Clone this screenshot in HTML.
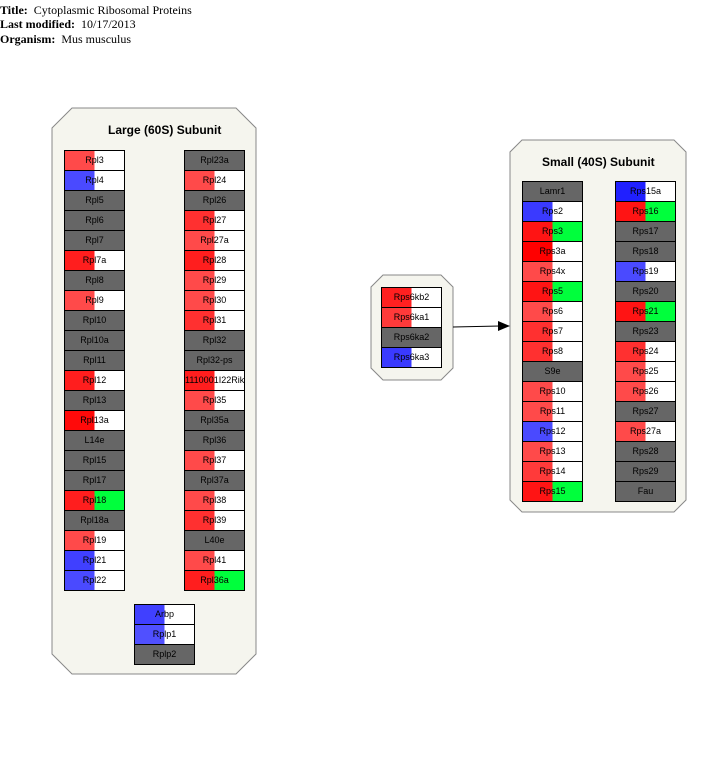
<!DOCTYPE html>
<html><head><meta charset="utf-8"><style>
body{margin:0;width:717px;height:781px;background:#fff;position:relative;overflow:hidden;font-family:"Liberation Sans",sans-serif}
.h{position:absolute;left:0;font-family:"Liberation Serif",serif;font-size:12px;line-height:14px}
.b{position:absolute;width:61px;height:21px;box-sizing:border-box;border:1px solid #000;font-size:9px;line-height:19px;text-align:center;color:#000}
.t{position:absolute;font-weight:bold;font-size:12px}
</style></head><body>
<div class="h" style="top:3px"><b>Title:</b>&nbsp; Cytoplasmic Ribosomal Proteins</div>
<div class="h" style="top:17px"><b>Last modified:</b>&nbsp; 10/17/2013</div>
<div class="h" style="top:32px"><b>Organism:</b>&nbsp; Mus musculus</div>
<svg width="717" height="781" style="position:absolute;left:0;top:0">
<polygon points="72,108 236,108 256,128 256,654 236,674 72,674 52,654 52,128" fill="#f5f5ee" stroke="#888" stroke-width="1"/>
<polygon points="522,140 674,140 686,152 686,500 674,512 522,512 510,500 510,152" fill="#f5f5ee" stroke="#888" stroke-width="1"/>
<polygon points="383,275 441,275 453,287 453,368 441,380 383,380 371,368 371,287" fill="#f5f5ee" stroke="#888" stroke-width="1"/>
<line x1="453" y1="327" x2="500" y2="326" stroke="#000"/>
<polygon points="510,326 498,321 498,331" fill="#000"/>
</svg>
<div class="t" style="left:108px;top:123px">Large (60S) Subunit</div>
<div class="t" style="left:542px;top:155px">Small (40S) Subunit</div>

<!-- Large left column -->
<div class="b" style="left:64px;top:150px;background:linear-gradient(90deg,#ff4a4a 50%,#fff 50%)">Rpl3</div>
<div class="b" style="left:64px;top:170px;background:linear-gradient(90deg,#4a4aff 50%,#fff 50%)">Rpl4</div>
<div class="b" style="left:64px;top:190px;background:#666">Rpl5</div>
<div class="b" style="left:64px;top:210px;background:#666">Rpl6</div>
<div class="b" style="left:64px;top:230px;background:#666">Rpl7</div>
<div class="b" style="left:64px;top:250px;background:linear-gradient(90deg,#ff1e1e 50%,#fff 50%)">Rpl7a</div>
<div class="b" style="left:64px;top:270px;background:#666">Rpl8</div>
<div class="b" style="left:64px;top:290px;background:linear-gradient(90deg,#ff4a4a 50%,#fff 50%)">Rpl9</div>
<div class="b" style="left:64px;top:310px;background:#666">Rpl10</div>
<div class="b" style="left:64px;top:330px;background:#666">Rpl10a</div>
<div class="b" style="left:64px;top:350px;background:#666">Rpl11</div>
<div class="b" style="left:64px;top:370px;background:linear-gradient(90deg,#ff1e1e 50%,#fff 50%)">Rpl12</div>
<div class="b" style="left:64px;top:390px;background:#666">Rpl13</div>
<div class="b" style="left:64px;top:410px;background:linear-gradient(90deg,#ff0a0a 50%,#fff 50%)">Rpl13a</div>
<div class="b" style="left:64px;top:430px;background:#666">L14e</div>
<div class="b" style="left:64px;top:450px;background:#666">Rpl15</div>
<div class="b" style="left:64px;top:470px;background:#666">Rpl17</div>
<div class="b" style="left:64px;top:490px;background:linear-gradient(90deg,#ff1e1e 50%,#00ff3c 50%)">Rpl18</div>
<div class="b" style="left:64px;top:510px;background:#666">Rpl18a</div>
<div class="b" style="left:64px;top:530px;background:linear-gradient(90deg,#ff4a4a 50%,#fff 50%)">Rpl19</div>
<div class="b" style="left:64px;top:550px;background:linear-gradient(90deg,#4040ff 50%,#fff 50%)">Rpl21</div>
<div class="b" style="left:64px;top:570px;background:linear-gradient(90deg,#4a4aff 50%,#fff 50%)">Rpl22</div>

<!-- Large right column -->
<div class="b" style="left:184px;top:150px;background:#666">Rpl23a</div>
<div class="b" style="left:184px;top:170px;background:linear-gradient(90deg,#ff4a4a 50%,#fff 50%)">Rpl24</div>
<div class="b" style="left:184px;top:190px;background:#666">Rpl26</div>
<div class="b" style="left:184px;top:210px;background:linear-gradient(90deg,#ff3030 50%,#fff 50%)">Rpl27</div>
<div class="b" style="left:184px;top:230px;background:linear-gradient(90deg,#ff4a4a 50%,#fff 50%)">Rpl27a</div>
<div class="b" style="left:184px;top:250px;background:linear-gradient(90deg,#ff1e1e 50%,#fff 50%)">Rpl28</div>
<div class="b" style="left:184px;top:270px;background:linear-gradient(90deg,#ff4a4a 50%,#fff 50%)">Rpl29</div>
<div class="b" style="left:184px;top:290px;background:linear-gradient(90deg,#ff4a4a 50%,#fff 50%)">Rpl30</div>
<div class="b" style="left:184px;top:310px;background:linear-gradient(90deg,#ff3030 50%,#fff 50%)">Rpl31</div>
<div class="b" style="left:184px;top:330px;background:#666">Rpl32</div>
<div class="b" style="left:184px;top:350px;background:#666">Rpl32-ps</div>
<div class="b" style="left:184px;top:370px;background:linear-gradient(90deg,#ff1e1e 50%,#fff 50%)">1110001I22Rik</div>
<div class="b" style="left:184px;top:390px;background:linear-gradient(90deg,#ff4a4a 50%,#fff 50%)">Rpl35</div>
<div class="b" style="left:184px;top:410px;background:#666">Rpl35a</div>
<div class="b" style="left:184px;top:430px;background:#666">Rpl36</div>
<div class="b" style="left:184px;top:450px;background:linear-gradient(90deg,#ff4a4a 50%,#fff 50%)">Rpl37</div>
<div class="b" style="left:184px;top:470px;background:#666">Rpl37a</div>
<div class="b" style="left:184px;top:490px;background:linear-gradient(90deg,#ff4a4a 50%,#fff 50%)">Rpl38</div>
<div class="b" style="left:184px;top:510px;background:linear-gradient(90deg,#ff3030 50%,#fff 50%)">Rpl39</div>
<div class="b" style="left:184px;top:530px;background:#666">L40e</div>
<div class="b" style="left:184px;top:550px;background:linear-gradient(90deg,#ff4a4a 50%,#fff 50%)">Rpl41</div>
<div class="b" style="left:184px;top:570px;background:linear-gradient(90deg,#ff1e1e 50%,#00ff3c 50%)">Rpl36a</div>

<!-- Large bottom -->
<div class="b" style="left:134px;top:604px;background:linear-gradient(90deg,#4040ff 50%,#fff 50%)">Arbp</div>
<div class="b" style="left:134px;top:624px;background:linear-gradient(90deg,#5050ff 50%,#fff 50%)">Rplp1</div>
<div class="b" style="left:134px;top:644px;background:#666">Rplp2</div>

<!-- Middle -->
<div class="b" style="left:381px;top:287px;background:linear-gradient(90deg,#ff2020 50%,#fff 50%)">Rps6kb2</div>
<div class="b" style="left:381px;top:307px;background:linear-gradient(90deg,#ff3a3a 50%,#fff 50%)">Rps6ka1</div>
<div class="b" style="left:381px;top:327px;background:#666">Rps6ka2</div>
<div class="b" style="left:381px;top:347px;background:linear-gradient(90deg,#3a3aff 50%,#fff 50%)">Rps6ka3</div>

<!-- Small left -->
<div class="b" style="left:522px;top:181px;background:#666">Lamr1</div>
<div class="b" style="left:522px;top:201px;background:linear-gradient(90deg,#3a3aff 50%,#fff 50%)">Rps2</div>
<div class="b" style="left:522px;top:221px;background:linear-gradient(90deg,#ff1414 50%,#00ff3c 50%)">Rps3</div>
<div class="b" style="left:522px;top:241px;background:linear-gradient(90deg,#ff0000 50%,#fff 50%)">Rps3a</div>
<div class="b" style="left:522px;top:261px;background:linear-gradient(90deg,#ff4a4a 50%,#fff 50%)">Rps4x</div>
<div class="b" style="left:522px;top:281px;background:linear-gradient(90deg,#ff1414 50%,#00ff3c 50%)">Rps5</div>
<div class="b" style="left:522px;top:301px;background:linear-gradient(90deg,#ff4a4a 50%,#fff 50%)">Rps6</div>
<div class="b" style="left:522px;top:321px;background:linear-gradient(90deg,#ff3030 50%,#fff 50%)">Rps7</div>
<div class="b" style="left:522px;top:341px;background:linear-gradient(90deg,#ff3030 50%,#fff 50%)">Rps8</div>
<div class="b" style="left:522px;top:361px;background:#666">S9e</div>
<div class="b" style="left:522px;top:381px;background:linear-gradient(90deg,#ff4a4a 50%,#fff 50%)">Rps10</div>
<div class="b" style="left:522px;top:401px;background:linear-gradient(90deg,#ff4a4a 50%,#fff 50%)">Rps11</div>
<div class="b" style="left:522px;top:421px;background:linear-gradient(90deg,#4a4aff 50%,#fff 50%)">Rps12</div>
<div class="b" style="left:522px;top:441px;background:linear-gradient(90deg,#ff4a4a 50%,#fff 50%)">Rps13</div>
<div class="b" style="left:522px;top:461px;background:linear-gradient(90deg,#ff3a3a 50%,#fff 50%)">Rps14</div>
<div class="b" style="left:522px;top:481px;background:linear-gradient(90deg,#ff1414 50%,#00ff3c 50%)">Rps15</div>

<!-- Small right -->
<div class="b" style="left:615px;top:181px;background:linear-gradient(90deg,#2020ff 50%,#fff 50%)">Rps15a</div>
<div class="b" style="left:615px;top:201px;background:linear-gradient(90deg,#ff1414 50%,#00ff3c 50%)">Rps16</div>
<div class="b" style="left:615px;top:221px;background:#666">Rps17</div>
<div class="b" style="left:615px;top:241px;background:#666">Rps18</div>
<div class="b" style="left:615px;top:261px;background:linear-gradient(90deg,#4a4aff 50%,#fff 50%)">Rps19</div>
<div class="b" style="left:615px;top:281px;background:#666">Rps20</div>
<div class="b" style="left:615px;top:301px;background:linear-gradient(90deg,#ff1414 50%,#00ff3c 50%)">Rps21</div>
<div class="b" style="left:615px;top:321px;background:#666">Rps23</div>
<div class="b" style="left:615px;top:341px;background:linear-gradient(90deg,#ff3030 50%,#fff 50%)">Rps24</div>
<div class="b" style="left:615px;top:361px;background:linear-gradient(90deg,#ff4a4a 50%,#fff 50%)">Rps25</div>
<div class="b" style="left:615px;top:381px;background:linear-gradient(90deg,#ff4a4a 50%,#fff 50%)">Rps26</div>
<div class="b" style="left:615px;top:401px;background:#666">Rps27</div>
<div class="b" style="left:615px;top:421px;background:linear-gradient(90deg,#ff4a4a 50%,#fff 50%)">Rps27a</div>
<div class="b" style="left:615px;top:441px;background:#666">Rps28</div>
<div class="b" style="left:615px;top:461px;background:#666">Rps29</div>
<div class="b" style="left:615px;top:481px;background:#666">Fau</div>
</body></html>
